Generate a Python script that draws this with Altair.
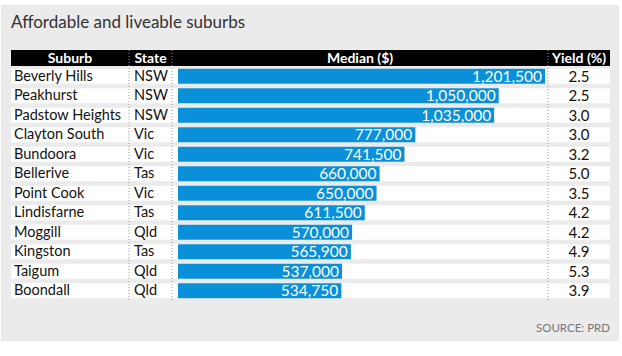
import altair as alt
import pandas as pd

# ---- data ----
suburbs = ["Beverly Hills", "Peakhurst", "Padstow Heights", "Clayton South", "Bundoora",
           "Bellerive", "Point Cook", "Lindisfarne", "Moggill", "Kingston", "Taigum", "Boondall"]
states = ["NSW", "NSW", "NSW", "Vic", "Vic", "Tas", "Vic", "Tas", "Qld", "Tas", "Qld", "Qld"]
medians = [1201500, 1050000, 1035000, 777000, 741500, 660000, 650000, 611500,
           570000, 565900, 537000, 534750]
yields = [2.5, 2.5, 3.0, 3.0, 3.2, 5.0, 3.5, 4.2, 4.2, 4.9, 5.3, 3.9]
headers = ["Suburb", "State", "Median ($)", "Yield (%)"]
title_text = "Affordable and liveable suburbs"
source_text = "SOURCE: PRD"

# ---- layout / style ----
FONT = "Lato"
BLUE = "#0a90d9"
header_centers = [69, 149.5, 359, 578]
sep_x = [128, 171, 547]

df = pd.DataFrame({"suburb": suburbs, "state": states, "median": medians, "yld": yields})
df["median_label"] = [f"{v:,}" for v in medians]
df["yield_label"] = [f"{v:.1f}" for v in yields]

yenc = alt.Y("suburb:N", sort=suburbs, axis=None,
             scale=alt.Scale(range=[61.5, 295.5], paddingInner=0.23, paddingOuter=0.115))
xenc = alt.X("median:Q", axis=None, scale=alt.Scale(domain=[0, 1201500], range=[177, 544]))

base = alt.Chart(df)
one = pd.DataFrame({"t": [title_text]})

layers = []
# header band
layers.append(alt.Chart(one).mark_rect(color="black").encode(
    x=alt.value(10), x2=alt.value(609), y=alt.value(45), y2=alt.value(61)))
# row backgrounds
layers.append(base.mark_rect(color="white").encode(
    y=yenc, x=alt.value(10), x2=alt.value(609)))
# bars
layers.append(base.mark_bar(color=BLUE).encode(y=yenc, x=xenc))
# bar labels
layers.append(base.mark_text(align="right", baseline="middle", dx=-3, dy=0.5, color="white",
                             font=FONT, fontSize=15.5).encode(y=yenc, x=xenc, text="median_label:N"))
# suburb names
layers.append(base.mark_text(align="left", baseline="middle", dy=0.5, color="#111", font=FONT,
                             fontSize=14.5).encode(y=yenc, x=alt.value(13), text="suburb:N"))
# states
layers.append(base.mark_text(align="left", baseline="middle", dy=0.5, color="#111", font=FONT,
                             fontSize=14.5).encode(y=yenc, x=alt.value(133), text="state:N"))
# yields
layers.append(base.mark_text(align="center", baseline="middle", dy=0.5, color="#111", font=FONT,
                             fontSize=15).encode(y=yenc, x=alt.value(578), text="yield_label:N"))
# separators
for sx in sep_x:
    layers.append(alt.Chart(one).mark_rule(color="#9a9a9a", strokeDash=[1, 2], strokeWidth=1).encode(
        x=alt.value(sx), y=alt.value(45), y2=alt.value(296)))
# header texts
for h, cx in zip(headers, header_centers):
    layers.append(alt.Chart(pd.DataFrame({"t": [h]})).mark_text(
        align="center", baseline="alphabetic", color="white", font=FONT, fontWeight="bold",
        fontSize=14).encode(x=alt.value(cx), y=alt.value(58), text="t:N"))
# title
layers.append(alt.Chart(one).mark_text(align="left", baseline="alphabetic", color="#333", font=FONT,
                                       fontSize=17).encode(x=alt.value(10), y=alt.value(22.5), text="t:N"))
# source
layers.append(alt.Chart(pd.DataFrame({"t": [source_text]})).mark_text(
    align="right", baseline="alphabetic", color="#777", font=FONT, fontSize=11.5).encode(
    x=alt.value(609), y=alt.value(327), text="t:N"))

chart = alt.layer(*layers).properties(
    width=618, height=336,
    autosize=alt.AutoSizeParams(type="none"),
    padding={"left": 1, "top": 5, "right": 3, "bottom": 15},
    background="white",
).configure_view(fill="#ebebeb", stroke=None)

chart.save("out.html", embed_options={"renderer": "svg", "actions": False})
